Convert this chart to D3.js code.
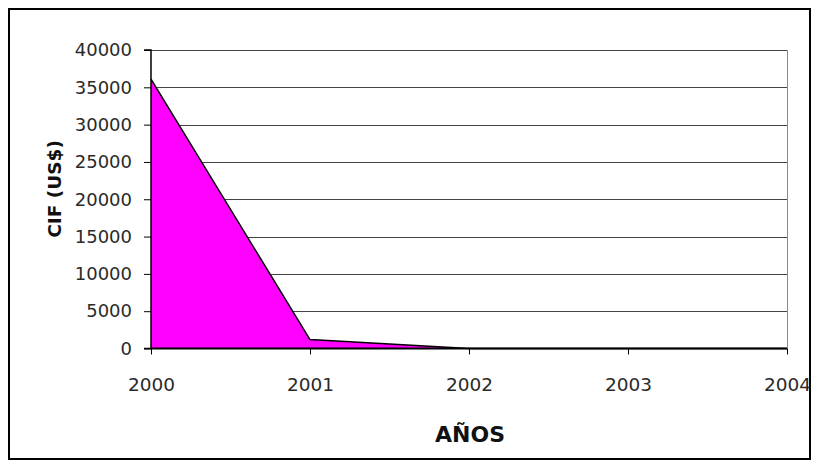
<!DOCTYPE html>
<html>
<head>
<meta charset="utf-8">
<script src="https://cdn.jsdelivr.net/npm/d3@7"></script>
<style>
  html, body { margin: 0; padding: 0; background: #fff; }
  svg { display: block; }
  text { font-family: "DejaVu Sans", sans-serif; }
</style>
</head>
<body>
<svg id="chart" width="819" height="468"></svg>
<script>
// Annual CIF values (US$)
const years = ["2000", "2001", "2002", "2003", "2004"];
const cifValues = [36100, 1200, 0, 0, 0];
const yTicks = [0, 5000, 10000, 15000, 20000, 25000, 30000, 35000, 40000];

const svg = d3.select("#chart");
const W = 819, H = 468;
const plot = { left: 151, right: 787, top: 50, bottom: 348.5 };

// Outer frame
svg.append("rect")
  .attr("x", 9).attr("y", 9)
  .attr("width", W - 18).attr("height", H - 18)
  .attr("fill", "#fff").attr("stroke", "#000").attr("stroke-width", 2);

const x = d3.scalePoint().domain(years).range([plot.left, plot.right]);
const y = d3.scaleLinear().domain([0, 40000]).range([plot.bottom, plot.top]);

// Horizontal gridlines
svg.append("g")
  .selectAll("line")
  .data(yTicks.filter(d => d > 0))
  .join("line")
  .attr("x1", plot.left).attr("x2", plot.right)
  .attr("y1", d => Math.round(y(d)) + 0.5).attr("y2", d => Math.round(y(d)) + 0.5)
  .attr("stroke", "#444").attr("stroke-width", 1);

// Right edge of plot area
svg.append("line")
  .attr("x1", plot.right + 0.5).attr("x2", plot.right + 0.5)
  .attr("y1", plot.top).attr("y2", plot.bottom)
  .attr("stroke", "#888").attr("stroke-width", 1);

// Filled area with outline
const data = years.map((yr, i) => ({ yr, v: cifValues[i] }));
const area = d3.area()
  .x(d => x(d.yr))
  .y0(y(0))
  .y1(d => y(d.v));
const line = d3.line()
  .x(d => x(d.yr))
  .y(d => y(d.v));

svg.append("path")
  .datum(data)
  .attr("d", area)
  .attr("fill", "#ff00ff");

svg.append("path")
  .datum(data)
  .attr("d", line)
  .attr("fill", "none")
  .attr("stroke", "#000")
  .attr("stroke-width", 1.5);

// Y axis
const yAxis = d3.axisLeft(y)
  .tickValues(yTicks)
  .tickSize(7)
  .tickPadding(12)
  .tickFormat(d3.format("d"));
const gy = svg.append("g")
  .attr("transform", `translate(${plot.left},0)`)
  .call(yAxis);
gy.select(".domain").attr("stroke", "#000").attr("stroke-width", 1.5)
  .attr("d", `M-7,${plot.top}H0V${plot.bottom}H-7`);
gy.selectAll(".tick line").attr("stroke", "#000");
gy.selectAll(".tick text")
  .attr("font-size", 18).attr("fill", "#2a2a2a")
  .attr("font-family", "'DejaVu Sans', sans-serif");

// X axis
const xAxis = d3.axisBottom(x)
  .tickSize(6)
  .tickPadding(20);
const gx = svg.append("g")
  .attr("transform", `translate(0,${plot.bottom})`)
  .call(xAxis);
gx.select(".domain").attr("stroke", "#000").attr("stroke-width", 2)
  .attr("d", `M${plot.left},0H${plot.right}`);
gx.selectAll(".tick line").attr("stroke", "#000");
gx.selectAll(".tick text")
  .attr("y", 42.5).attr("dy", null)
  .attr("font-size", 18.5).attr("fill", "#2a2a2a")
  .attr("font-family", "'DejaVu Sans', sans-serif");

// Axis titles
svg.append("text")
  .attr("x", 470)
  .attr("y", 442)
  .attr("text-anchor", "middle")
  .attr("font-size", 22).attr("font-weight", "bold")
  .attr("fill", "#111")
  .text("AÑOS");

svg.append("text")
  .attr("transform", `translate(61,189) rotate(-90)`)
  .attr("text-anchor", "middle")
  .attr("font-size", 18.5).attr("font-weight", "bold")
  .attr("fill", "#111")
  .text("CIF (US$)");
</script>
</body>
</html>
